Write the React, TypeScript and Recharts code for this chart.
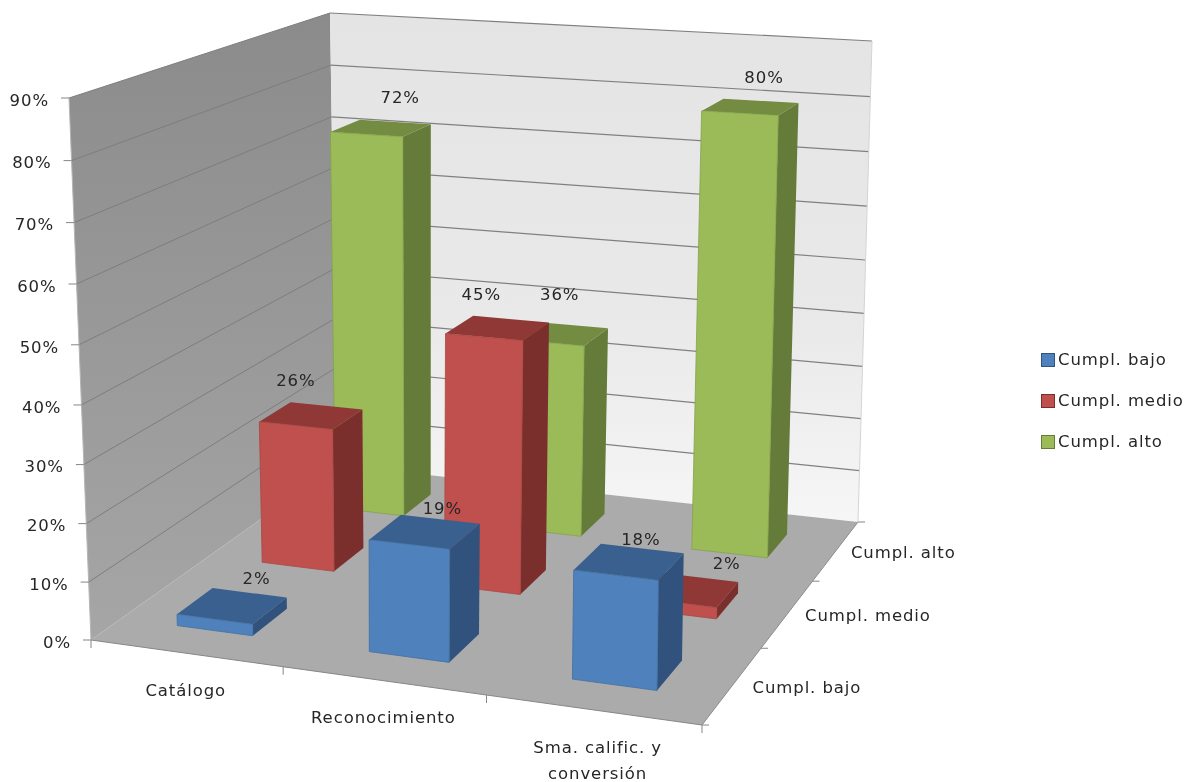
import { Bar, BarChart, Customized, LabelList, Legend, XAxis, YAxis } from 'recharts'

const categories = ['Catálogo', 'Reconocimiento', 'Sma. calific. y conversión']
const cumplBajo = [2, 19, 18]
const cumplMedio = [26, 45, 2]
const cumplAlto = [72, 36, 80]
const valueTicks = [0, 10, 20, 30, 40, 50, 60, 70, 80, 90]

const rows = categories.map((name, i) => ({ name, bajo: cumplBajo[i], medio: cumplMedio[i], alto: cumplAlto[i] }))

// front to back, index is the slot on the depth axis
const series = [
  { key: 'bajo', label: 'Cumpl. bajo', front: '#4f81bd', top: '#3a6090', side: '#30527c', edge: '#41709f' },
  { key: 'medio', label: 'Cumpl. medio', front: '#c0504d', top: '#8f3836', side: '#7b2f2d', edge: '#a84744' },
  { key: 'alto', label: 'Cumpl. alto', front: '#9bbb59', top: '#748c42', side: '#657b3a', edge: '#84a24a' },
]

const FONT = '"DejaVu Sans", sans-serif'
const FONT_SIZE = 16.5
const SPACING = 0.9
const TEXT = '#262626'

// the plot area is the front face of the box, the rest comes from the projection below
const PLOT = { left: 91, top: 98, width: 611, height: 542 }

// where each box starts and ends inside its depth slot
const depthFill: [number, number][] = [[0.32, 0.72], [0.31, 0.7], [0.27, 0.67]]

type P = [number, number]

function quadMap([p0, p1, p2, p3]: P[]) {
  const dx1 = p1[0] - p2[0]
  const dx2 = p3[0] - p2[0]
  const sx = p0[0] - p1[0] + p2[0] - p3[0]
  const dy1 = p1[1] - p2[1]
  const dy2 = p3[1] - p2[1]
  const sy = p0[1] - p1[1] + p2[1] - p3[1]
  const det = dx1 * dy2 - dx2 * dy1
  const g = (sx * dy2 - dx2 * sy) / det
  const h = (dx1 * sy - sx * dy1) / det
  return (u: number, v: number): P => {
    const w = g * u + h * v + 1
    return [
      ((p1[0] - p0[0] + g * p1[0]) * u + (p3[0] - p0[0] + h * p3[0]) * v + p0[0]) / w,
      ((p1[1] - p0[1] + g * p1[1]) * u + (p3[1] - p0[1] + h * p3[1]) * v + p0[1]) / w,
    ]
  }
}

const floor = quadMap([[91, 640], [702, 725], [858, 522], [337, 465]])
const ceiling = quadMap([[69, 98], [710, 135], [872, 41], [330, 13]])

// u along categories, v along depth, s height (all 0..1)
function project(u: number, v: number, s: number): P {
  const a = floor(u, v)
  const b = ceiling(u, v)
  const k = 0.957
  const t = (s * k) / (1 - s * (1 - k))
  return [a[0] + (b[0] - a[0]) * t, a[1] + (b[1] - a[1]) * t]
}

const pts = (list: P[]) => list.map((p) => `${p[0].toFixed(1)},${p[1].toFixed(1)}`).join(' ')

function line(a: P, b: P, stroke: string, key: string | number, width = 1) {
  return <line key={key} x1={a[0]} y1={a[1]} x2={b[0]} y2={b[1]} stroke={stroke} strokeWidth={width} />
}

const textProps = { fontFamily: FONT, fontSize: FONT_SIZE, letterSpacing: SPACING, fill: TEXT }

function Frame() {
  const depthSlots = [0, 1, 2, 3]
  return (
    <g>
      <defs>
        <linearGradient id="sideWall" x1="0" y1="0" x2="0" y2="1">
          <stop offset="0%" stopColor="#8b8b8b" />
          <stop offset="100%" stopColor="#a6a6a6" />
        </linearGradient>
        <linearGradient id="backWall" x1="0" y1="0" x2="0" y2="1">
          <stop offset="0%" stopColor="#e4e4e4" />
          <stop offset="60%" stopColor="#e9e9e9" />
          <stop offset="100%" stopColor="#f6f6f6" />
        </linearGradient>
      </defs>
      <polygon points={pts([project(0, 0, 0), project(0, 0, 1), project(0, 1, 1), project(0, 1, 0)])} fill="url(#sideWall)" />
      <polygon points={pts([project(0, 1, 0), project(0, 1, 1), project(1, 1, 1), project(1, 1, 0)])} fill="url(#backWall)" />
      <polygon points={pts([project(0, 0, 0), project(1, 0, 0), project(1, 1, 0), project(0, 1, 0)])} fill="#ababab" />
      {valueTicks.slice(1).map((t) => line(project(0, 0, t / 90), project(0, 1, t / 90), '#7d7d7d', `side-${t}`))}
      {valueTicks.slice(1).map((t) => line(project(0, 1, t / 90), project(1, 1, t / 90), '#808080', `back-${t}`, 1.2))}
      {line(project(0, 0, 0), project(0, 0, 1), '#b5b5b5', 'left-edge')}
      {line(project(1, 1, 0), project(1, 1, 1), '#d4d4d4', 'right-edge')}
      {line(project(0, 0, 0), project(1, 0, 0), '#868686', 'front-edge')}
      {line(project(1, 0, 0), project(1, 1, 0), '#8c8c8c', 'depth-edge')}
      {categories.map((_, i) => {
        const a = project(i / categories.length, 0, 0)
        return line(a, [a[0], a[1] + 8], '#868686', `cat-${i}`)
      })}
      {line(project(1, 0, 0), [702, 733], '#868686', 'cat-end')}
      {depthSlots.map((d) => {
        const a = project(1, d / 3, 0)
        return line(a, [a[0] + 7, a[1]], '#868686', `depth-${d}`)
      })}
      {series.map((s, d) => {
        const a = project(1, (d + 0.5) / 3, 0)
        return (
          <text key={s.key} x={a[0] + 20 - 2.5 * d} y={a[1] + 2} dy="0.35em" {...textProps}>
            {s.label}
          </text>
        )
      })}
    </g>
  )
}

function ValueTick({ y, payload }: any) {
  const s = (PLOT.top + PLOT.height - y) / PLOT.height
  const p = project(0, 0, s)
  return (
    <g>
      {line(p, [p[0] - 8, p[1]], '#868686', 'tick')}
      <text x={p[0] - 20} y={p[1] + 2} dy="0.35em" textAnchor="end" {...textProps}>
        {payload.value}%
      </text>
    </g>
  )
}

function wrapLabel(text: string) {
  // last category breaks in two lines in the original
  return text.length > 20 ? ['Sma. calific. y', 'conversión'] : [text]
}

function CategoryTick({ x, payload }: any) {
  const u = (x - PLOT.left) / PLOT.width
  const p = project(u, 0, 0)
  const cx = u > 0.8 ? p[0] + 5 : p[0]
  return (
    <text x={cx} y={p[1] + 37} textAnchor="middle" {...textProps}>
      {wrapLabel(payload.value).map((t, i) => (
        <tspan key={t} x={cx} dy={i === 0 ? '0.35em' : 26}>
          {t}
        </tspan>
      ))}
    </text>
  )
}

function Box3D({ x, y, width, height, depth, front, top, side, edge }: any) {
  const u0 = (x - PLOT.left) / PLOT.width
  const u1 = (x + width - PLOT.left) / PLOT.width
  const s = height / PLOT.height
  const v0 = (depth + depthFill[depth][0]) / 3
  const v1 = (depth + depthFill[depth][1]) / 3
  return (
    <g>
      <polygon points={pts([project(u1, v0, 0), project(u1, v1, 0), project(u1, v1, s), project(u1, v0, s)])} fill={side} />
      <polygon points={pts([project(u0, v0, s), project(u1, v0, s), project(u1, v1, s), project(u0, v1, s)])} fill={top} />
      <polygon points={pts([project(u0, v0, 0), project(u1, v0, 0), project(u1, v0, s), project(u0, v0, s)])} fill={front} stroke={edge} strokeWidth={0.8} />
    </g>
  )
}

// excel places these by itself, small offset per label from the top of the box
const labelNudge: Record<string, P[]> = {
  bajo: [[26, -29], [19, -25], [13, -24]],
  medio: [[-15, -36], [-16, -34], [39, -27]],
  alto: [[17, -30], [-2, -38], [12, -29]],
}

function BoxLabel({ x, y, width, height, value, index, depth, seriesKey }: any) {
  const u = (x + width / 2 - PLOT.left) / PLOT.width
  const s = height / PLOT.height
  const p = project(u, (depth + 0.5) / 3, s)
  const n = labelNudge[seriesKey][index]
  return (
    <text x={p[0] + n[0]} y={p[1] + n[1]} dy="0.35em" textAnchor="middle" {...textProps}>
      {value}%
    </text>
  )
}

function LegendBox() {
  return (
    <div style={{ fontFamily: FONT, fontSize: FONT_SIZE, letterSpacing: SPACING, color: TEXT }}>
      {series.map((s) => (
        <div key={s.key} style={{ display: 'flex', alignItems: 'center', height: 41, whiteSpace: 'nowrap' }}>
          <span style={{ width: 12, height: 12, marginRight: 3, background: s.front, border: `1px solid ${s.side}`, display: 'inline-block' }} />
          {s.label}
        </div>
      ))}
    </div>
  )
}

export default function App() {
  const barWidth = (PLOT.width / categories.length) * 0.4
  return (
    <div style={{ position: 'absolute', left: 0, top: 0, width: 1189, height: 782, background: '#fff', filter: 'blur(0.5px)' }}>
      <BarChart
        width={1189}
        height={782}
        data={rows}
        margin={{ top: PLOT.top, left: PLOT.left - 60, right: 1189 - PLOT.left - PLOT.width, bottom: 782 - PLOT.top - PLOT.height - 60 }}
        barSize={barWidth}
        barGap={-barWidth}
      >
        <Customized component={Frame} />
        <XAxis dataKey="name" height={60} axisLine={false} tickLine={false} tick={CategoryTick} interval={0} />
        <YAxis width={60} domain={[0, 90]} ticks={valueTicks} axisLine={false} tickLine={false} tick={ValueTick} />
        {[...series].reverse().map((s) => {
          const depth = series.indexOf(s)
          return (
            <Bar
              key={s.key}
              dataKey={s.key}
              isAnimationActive={false}
              fill={s.front}
              shape={(props: any) => <Box3D {...props} depth={depth} front={s.front} top={s.top} side={s.side} edge={s.edge} />}
            >
              <LabelList dataKey={s.key} content={(props: any) => <BoxLabel {...props} depth={depth} seriesKey={s.key} />} />
            </Bar>
          )
        })}
        <Legend layout="vertical" align="center" verticalAlign="middle" content={LegendBox} wrapperStyle={{ left: 1041, top: 339, width: 148, bottom: 'auto', right: 'auto' }} />
      </BarChart>
    </div>
  )
}
